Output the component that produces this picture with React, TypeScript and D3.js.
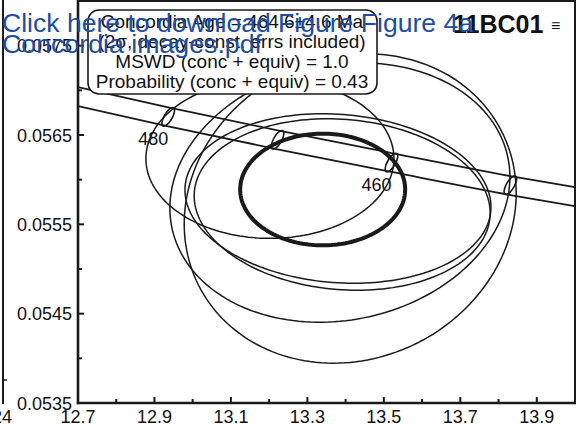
import React from "react";
import * as d3 from "d3";

const W = 586;
const H = 424;

// ---- axes ----
const xDomain = [12.7, 14.0];
const yDomain = [0.0535, 0.058];
const xMajorTicks = [12.7, 12.9, 13.1, 13.3, 13.5, 13.7, 13.9];
const xMinorTicks = [12.8, 13.0, 13.2, 13.4, 13.6, 13.8];
const yMajorTicks = [0.0535, 0.0545, 0.0555, 0.0565, 0.0575];
const yMinorTicks = [0.054, 0.055, 0.056, 0.057];

// ---- concordia band (decay-constant errors) ----
const bandX = [12.7, 12.936, 13.222, 13.52, 13.831, 14.0];
const bandUpperY = [0.057036, 0.056809, 0.056552, 0.056298, 0.05604, 0.055915];
const bandLowerY = [0.056824, 0.056596, 0.05634, 0.056086, 0.055828, 0.055703];

// ---- age markers on concordia (Ma) ----
const markerAges = [480, 470, 460, 450];
const markerX = [12.936, 13.222, 13.52, 13.831];
const markerY = [0.056703, 0.056446, 0.056192, 0.055938];
const labelledAges = [480, 460];

// ---- analyses: centre, 2-sigma extents, correlation ----
const spotX = [13.202, 13.38, 13.391, 13.385, 13.412];
const spotY = [0.056236, 0.055789, 0.055722, 0.055856, 0.055677];
const spotErrX = [0.3244, 0.4002, 0.3871, 0.4447, 0.4342];
const spotErrY = [0.000893, 0.000949, 0.00096, 0.001452, 0.001731];
const spotRho = [0, -0.1, -0.1, 0.12, 0.1];

// ---- concordia age ellipse ----
const concAgeX = [13.34];
const concAgeY = [0.05589];
const concAgeErrX = [0.2158];
const concAgeErrY = [0.000625];
const concAgeRho = [0];

// ---- texts ----
const infoLines = [
  "Concordia Age = 464.6±4.6 Ma",
  "(2σ, decay-const. errs included)",
  "MSWD (conc + equiv) = 1.0",
  "Probability (conc + equiv) = 0.43",
];
const sampleName = "11BC01";
const overlayLines = ["Click here to download Figure Figure 4a", "Concordia images.pdf"];
const neighbourLabel = "24";

const FONT = "'Liberation Sans', Arial, Helvetica, sans-serif";

export default function App() {
  const left = 78, right = 575, top = 1, bottom = 403;
  const x = d3.scaleLinear().domain(xDomain).range([left, right]);
  const y = d3.scaleLinear().domain(yDomain).range([bottom, top]);

  const line = d3
    .line<[number, number]>()
    .x((d) => x(d[0]))
    .y((d) => y(d[1]))
    .curve(d3.curveMonotoneX);

  const upperPath = line(bandX.map((v, i) => [v, bandUpperY[i]]) as [number, number][]) || "";
  const lowerPath = line(bandX.map((v, i) => [v, bandLowerY[i]]) as [number, number][]) || "";

  const ellipsePath = (cx: number, cy: number, ex: number, ey: number, rho: number) => {
    const n = 180;
    const s = Math.sqrt(1 - rho * rho);
    const pts: [number, number][] = d3.range(n).map((k) => {
      const t = (2 * Math.PI * k) / n;
      return [cx + ex * Math.cos(t), cy + ey * (rho * Math.cos(t) + s * Math.sin(t))];
    });
    return (
      d3
        .line<[number, number]>()
        .x((d) => x(d[0]))
        .y((d) => y(d[1]))
        .curve(d3.curveLinearClosed)(pts) || ""
    );
  };

  const stroke = "#1a1a1a";

  return (
    <svg
      width={W}
      height={H}
      viewBox={`0 0 ${W} ${H}`}
      style={{ position: "absolute", left: 0, top: 0, background: "#fff" }}
      fontFamily={FONT}
    >
      <defs>
        <clipPath id="plotClip">
          <rect x={left} y={0} width={right - left} height={bottom} />
        </clipPath>
      </defs>
      <rect x={0} y={0} width={W} height={H} fill="#fff" />

      {/* neighbouring figure fragment */}
      <line x1={3} y1={0} x2={3} y2={404} stroke={stroke} strokeWidth={2} />
      <line x1={3} y1={380} x2={7} y2={380} stroke={stroke} strokeWidth={1.5} />
      <text x={12} y={423} fontSize={18} textAnchor="end" fill="#111">
        {neighbourLabel}
      </text>

      <g clipPath="url(#plotClip)">
        {/* analyses */}
        {spotX.map((cx, i) => (
          <path
            key={"s" + i}
            d={ellipsePath(cx, spotY[i], spotErrX[i], spotErrY[i], spotRho[i])}
            fill="none"
            stroke={stroke}
            strokeWidth={1.5}
          />
        ))}
        {/* concordia band */}
        <path d={upperPath} fill="none" stroke={stroke} strokeWidth={1.8} />
        <path d={lowerPath} fill="none" stroke={stroke} strokeWidth={1.8} />
        {/* age markers */}
        {markerAges.map((a, i) => (
          <ellipse
            key={"m" + a}
            cx={x(markerX[i])}
            cy={y(markerY[i])}
            rx={4}
            ry={10.5}
            transform={`rotate(30 ${x(markerX[i])} ${y(markerY[i])})`}
            fill="none"
            stroke={stroke}
            strokeWidth={1.6}
          />
        ))}
        {markerAges.map((a, i) =>
          labelledAges.includes(a) ? (
            <text
              key={"l" + a}
              x={x(markerX[i]) - 15}
              y={y(markerY[i]) + 28}
              fontSize={18}
              textAnchor="middle"
              fill="#111"
            >
              {a}
            </text>
          ) : null
        )}
        {/* concordia age ellipse */}
        {concAgeX.map((cx, i) => (
          <path
            key={"c" + i}
            d={ellipsePath(cx, concAgeY[i], concAgeErrX[i], concAgeErrY[i], concAgeRho[i])}
            fill="none"
            stroke={stroke}
            strokeWidth={4}
          />
        ))}
      </g>

      {/* frame */}
      <rect
        x={left}
        y={top}
        width={right - left}
        height={bottom - top}
        fill="none"
        stroke={stroke}
        strokeWidth={2}
      />
      <line x1={left} y1={0} x2={left} y2={bottom + 1.2} stroke={stroke} strokeWidth={2.6} />
      <line x1={left - 1.2} y1={bottom} x2={right + 1} y2={bottom} stroke={stroke} strokeWidth={2.6} />

      {/* ticks */}
      {xMajorTicks.map((t) => (
        <g key={"xM" + t}>
          <line x1={x(t)} y1={bottom} x2={x(t)} y2={bottom - 6} stroke={stroke} strokeWidth={2} />
          <text x={x(t)} y={423} fontSize={18} textAnchor="middle" fill="#111">
            {d3.format(".1f")(t)}
          </text>
        </g>
      ))}
      {xMinorTicks.map((t) => (
        <line key={"xm" + t} x1={x(t)} y1={bottom} x2={x(t)} y2={bottom - 4} stroke={stroke} strokeWidth={2} />
      ))}
      {yMajorTicks.map((t) => (
        <g key={"yM" + t}>
          <line x1={left} y1={y(t)} x2={left + 6} y2={y(t)} stroke={stroke} strokeWidth={2} />
          <text x={72} y={y(t) + 6.5} fontSize={18} textAnchor="end" fill="#111">
            {d3.format(".4f")(t)}
          </text>
        </g>
      ))}
      {yMinorTicks.map((t) => (
        <line key={"ym" + t} x1={left} y1={y(t)} x2={left + 4} y2={y(t)} stroke={stroke} strokeWidth={2} />
      ))}

      {/* info box */}
      <rect x={88} y={10} width={289} height={84} rx={11} fill="#fff" stroke={stroke} strokeWidth={1.6} />
      {infoLines.map((s, i) => (
        <text key={"i" + i} x={232} y={28 + i * 20} fontSize={19} textAnchor="middle" fill="#111">
          {s}
        </text>
      ))}

      {/* sample name */}
      <text x={453} y={33} fontSize={25} fontWeight="bold" fill="#111">
        {sampleName}
      </text>
      <text x={551} y={31} fontSize={16} fill="#111">
        ≡
      </text>

      {/* link overlay */}
      {overlayLines.map((s, i) => (
        <text
          key={"o" + i}
          x={2}
          y={32 + i * 21}
          fontSize={26.5}
          fill="#1d4da6"
          textLength={i === 0 ? 471 : 260}
          lengthAdjust="spacingAndGlyphs"
        >
          {s}
        </text>
      ))}
    </svg>
  );
}
